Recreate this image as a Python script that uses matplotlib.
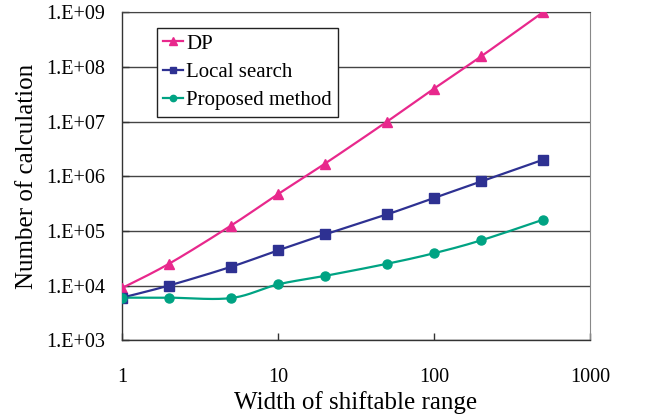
import numpy as np
import matplotlib
matplotlib.use("Agg")
import matplotlib.pyplot as plt
from matplotlib.ticker import FixedLocator, FixedFormatter, NullLocator

plt.rcParams['font.family'] = ['Liberation Serif', 'DejaVu Serif']

x_vals = [1, 2, 5, 10, 20, 50, 100, 200, 500]
dp = [9000, 25000, 1.25e5, 4.7e5, 1.7e6, 1.0e7, 4.0e7, 1.55e8, 1.0e9]
local_search = [6000, 1.0e4, 2.2e4, 4.4e4, 8.6e4, 2.0e5, 4.0e5, 8.0e5, 2.0e6]
proposed = [6000, 6000, 5900, 1.05e4, 1.5e4, 2.5e4, 3.9e4, 6.7e4, 1.6e5]
series_names = ["DP", "Local search", "Proposed method"]
y_ticks = [1e3, 1e4, 1e5, 1e6, 1e7, 1e8, 1e9]
y_tick_labels = ["1.E+03", "1.E+04", "1.E+05", "1.E+06", "1.E+07", "1.E+08", "1.E+09"]
x_ticks = [1, 10, 100, 1000]
x_tick_labels = ["1", "10", "100", "1000"]


def smooth_path(xs, ys, n=30):
    """Excel-like smoothed line (Catmull-Rom Bezier) in log space."""
    X = np.log10(np.asarray(xs, float))
    Y = np.log10(np.asarray(ys, float))
    P = np.column_stack([X, Y])
    Pe = np.vstack([P[0], P, P[-1]])
    out = []
    t = np.linspace(0, 1, n)[:, None]
    for i in range(len(P) - 1):
        p0 = Pe[i + 1]
        p3 = Pe[i + 2]
        c1 = p0 + (Pe[i + 2] - Pe[i]) / 6.0
        c2 = p3 - (Pe[i + 3] - Pe[i + 1]) / 6.0
        seg = ((1 - t) ** 3) * p0 + 3 * ((1 - t) ** 2) * t * c1 + 3 * (1 - t) * t ** 2 * c2 + t ** 3 * p3
        out.append(seg if i == 0 else seg[1:])
    S = np.vstack(out)
    return 10 ** S[:, 0], 10 ** S[:, 1]


fig = plt.figure(figsize=(6.47, 4.20), dpi=100)
ax = fig.add_axes([0.1886, 0.19, 0.7234, 0.781])

styles = [
    (dp, "#E8288C", "^", 7.5),
    (local_search, "#2E3192", "s", 7),
    (proposed, "#00A383", "o", 6.5),
]
for (vals, color, marker, ms), name in zip(styles, series_names):
    sx, sy = smooth_path(x_vals, vals)
    ax.plot(sx, sy, color=color, lw=1.6, zorder=3)
    ax.plot(x_vals, vals, linestyle='none', marker=marker, color=color, ms=ms, zorder=4)
    ax.plot([], [], color=color, lw=1.6, marker=marker, ms=ms * 0.7, label=name)

ax.set_xscale('log')
ax.set_yscale('log')
ax.set_xlim(1, 1000)
ax.set_ylim(1e3, 1e9)

ax.yaxis.set_major_locator(FixedLocator(y_ticks))
ax.yaxis.set_major_formatter(FixedFormatter(y_tick_labels))
ax.yaxis.set_minor_locator(NullLocator())
ax.xaxis.set_major_locator(FixedLocator(x_ticks))
ax.xaxis.set_major_formatter(FixedFormatter(x_tick_labels))
ax.xaxis.set_minor_locator(NullLocator())

ax.grid(axis='y', color='#444444', lw=1.0)
ax.set_axisbelow(True)
for side in ['left', 'bottom']:
    ax.spines[side].set_color('#333333')
    ax.spines[side].set_linewidth(1.0)
ax.spines['right'].set_color('#888888')
ax.spines['top'].set_color('#444444')

ax.tick_params(axis='both', direction='in', length=5, width=1.0, color='#333333',
               labelsize=14.5)
ax.tick_params(axis='y', pad=12)
ax.tick_params(axis='x', pad=20)

ax.set_xlabel("Width of shiftable range", fontsize=18, labelpad=3)
ax.set_ylabel("Number of calculation", fontsize=18, labelpad=6)

leg = ax.legend(loc='upper left', bbox_to_anchor=(0.075, 0.952), fontsize=15,
                frameon=True, fancybox=False, edgecolor='#222222', framealpha=1,
                handlelength=0.95, handletextpad=0.15, borderpad=0.3, labelspacing=0.42,
                borderaxespad=0)
leg.get_frame().set_linewidth(1.0)

fig.savefig("out.png", dpi=100)
